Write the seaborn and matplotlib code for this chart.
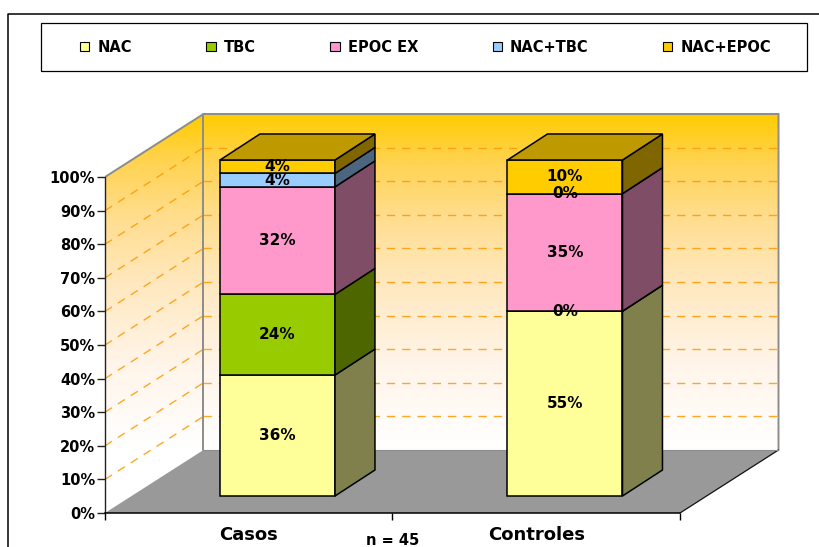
import numpy as np
import matplotlib
matplotlib.use("Agg")
import matplotlib.pyplot as plt
import seaborn as sns
from matplotlib.patches import Polygon, Patch, Rectangle
from matplotlib.colors import LinearSegmentedColormap, to_rgb
from matplotlib.transforms import Affine2D
from matplotlib.lines import Line2D

# ---- data -------------------------------------------------------------
groups = ["Casos", "Controles"]
series = ["NAC", "TBC", "EPOC EX", "NAC+TBC", "NAC+EPOC"]
nac = [36, 55]
tbc = [24, 0]
epoc_ex = [32, 35]
nac_tbc = [4, 0]
nac_epoc = [4, 10]
y_ticks = [0, 10, 20, 30, 40, 50, 60, 70, 80, 90, 100]
y_tick_labels = [f"{v}%" for v in y_ticks]
sample_note = "n = 45"
colors = ["#FFFF99", "#99CC00", "#FF99CC", "#99CCFF", "#FFCC00"]

# ---- style ------------------------------------------------------------
sns.set_theme(style="white")
plt.rcParams["font.family"] = ["DejaVu Sans"]
plt.rcParams["font.weight"] = "bold"
plt.rcParams["text.color"] = "black"
plt.rcParams["xtick.color"] = "black"
plt.rcParams["ytick.color"] = "black"
plt.rcParams["axes.labelcolor"] = "black"

W, H = 819, 547
fig = plt.figure(figsize=(W / 100, H / 100), dpi=100)
fig.patch.set_facecolor("white")

# front plane of the floor: one category slot = 287.5 px, 1 % = 3.36 px
x0_px, y0_px = 105, 513
slot_px, pct_px = 287.5, 3.36
xlim = (-0.5, 1.95)
ylim = (0, 125)
ax = fig.add_axes([x0_px / W, (H - y0_px) / H,
                   (xlim[1] - xlim[0]) * slot_px / W,
                   (ylim[1] - ylim[0]) * pct_px / H])
ax.set_facecolor("none")

# oblique depth of the box, and of the bars, in data units
DX, DY = 98.5 / slot_px, 63 / pct_px
FX, FY = 0.100, 5.06      # bar front face
BX, BY = 0.239, 12.8      # bar back face
BAR_W = 0.40

# ---- walls ------------------------------------------------------------
wall_cmap = LinearSegmentedColormap.from_list(
    "wall",
    [(0.0, "#FFFFFF"), (0.25, "#FFF5EA"), (0.5, "#FFE8BE"),
     (0.7, "#FFDD8C"), (0.86, "#FFD350"), (1.0, "#FFCC00")])
gy = np.linspace(0, 100 + DY, 400)
grad = np.clip((gy - DY) / 100, 0, 1)[:, None] * np.ones((1, 2))
wall_verts = [(-0.5, 0), (-0.5, 100), (-0.5 + DX, 100 + DY),
              (1.5 + DX, 100 + DY), (1.5 + DX, DY), (-0.5 + DX, DY)]
im = ax.imshow(grad, extent=(-0.5, 1.5 + DX, 0, 100 + DY), origin="lower",
               aspect="auto", cmap=wall_cmap, vmin=0, vmax=1,
               interpolation="bilinear", zorder=0)
im.set_clip_path(Polygon(wall_verts, closed=True, transform=ax.transData))

# dashed gridlines on back and side walls
for p in y_ticks[1:-1]:
    ax.plot([-0.5 + DX, 1.5 + DX], [p + DY, p + DY], color="#FF9900",
            lw=1.0, dashes=(6, 5), alpha=0.85, zorder=0.5)
    ax.plot([-0.5, -0.5 + DX], [p, p + DY], color="#FF9900",
            lw=1.0, dashes=(6, 5), alpha=0.85, zorder=0.5)

# wall outlines
ax.plot([-0.5, -0.5 + DX, 1.5 + DX, 1.5 + DX], [100, 100 + DY, 100 + DY, DY],
        color="#8C8C8C", lw=1.4, zorder=0.6, solid_joinstyle="miter")
ax.plot([-0.5 + DX, -0.5 + DX], [DY, 100 + DY], color="#8C8C8C",
        lw=1.4, zorder=0.6)

# floor
floor = Polygon([(-0.5, 0), (1.5, 0), (1.5 + DX, DY), (-0.5 + DX, DY)],
                closed=True, facecolor="#999999", edgecolor="none", zorder=1)
ax.add_patch(floor)
ax.plot([1.5, 1.5 + DX], [0, DY], color="#111111", lw=0.9, zorder=1.1)
ax.plot([-0.5 + DX, 1.5 + DX], [DY, DY], color="#8C8C8C", lw=0.8, zorder=1.1)

# ---- stacked 3-D bars -------------------------------------------------
values = [nac, tbc, epoc_ex, nac_tbc, nac_epoc]
bottom = np.zeros(len(groups))
shift = Affine2D().translate(FX, FY) + ax.transData
for k, (name, vals, col) in enumerate(zip(series, values, colors)):
    vals = np.asarray(vals, dtype=float)
    n_before = len(ax.patches)
    sns.barplot(x=groups, y=vals, bottom=bottom, width=BAR_W, color=col,
                saturation=1, errorbar=None, edgecolor="black",
                linewidth=1.1, ax=ax)
    new = ax.patches[n_before:]
    rgb = np.array(to_rgb(col))
    for bar, v in zip(new, vals):
        bar.set_transform(shift)
        bar.set_zorder(5)
        xl, w = bar.get_x(), bar.get_width()
        yb, h = bar.get_y(), bar.get_height()
        xr, yt = xl + w, yb + h
        side = Polygon([(xr + FX, yb + FY), (xr + FX, yt + FY),
                        (xr + BX, yt + BY), (xr + BX, yb + BY)],
                       closed=True, facecolor=rgb * 0.5, edgecolor="black",
                       lw=1.1, zorder=5, joinstyle="miter")
        ax.add_patch(side)
        if k == len(series) - 1:
            top = Polygon([(xl + FX, yt + FY), (xr + FX, yt + FY),
                           (xr + BX, yt + BY), (xl + BX, yt + BY)],
                          closed=True, facecolor=rgb * 0.75,
                          edgecolor="black", lw=1.1, zorder=5,
                          joinstyle="miter")
            ax.add_patch(top)
        ax.text(xl + w / 2 + FX, yb + h / 2 + FY, f"{v:.0f}%",
                ha="center", va="center", fontsize=11, fontweight="bold",
                color="black", zorder=10)
    bottom = bottom + vals

# ---- axes -------------------------------------------------------------
ax.set_xlim(*xlim)
ax.set_ylim(*ylim)
for s in ("top", "right"):
    ax.spines[s].set_visible(False)
ax.spines["left"].set_bounds(0, 100)
ax.spines["left"].set_color("#222222")
ax.spines["left"].set_linewidth(1.0)
ax.spines["left"].set_zorder(2)
ax.spines["bottom"].set_bounds(-0.5, 1.5)
ax.spines["bottom"].set_color("black")
ax.spines["bottom"].set_linewidth(1.1)
ax.spines["bottom"].set_zorder(2)

ax.set_yticks(y_ticks)
ax.set_yticklabels(y_tick_labels)
ax.tick_params(axis="y", left=True, length=6, width=1.0, color="#222222",
               direction="out", pad=1, labelsize=10.5, labelcolor="black")
ax.set_xticks([-0.5, 0.5, 1.5])
ax.set_xticklabels(["", "", ""])
ax.set_xticks([0, 1], minor=True)
ax.set_xticklabels(groups, minor=True, fontsize=13, fontweight="bold",
                   color="black")
ax.tick_params(axis="x", which="major", bottom=True, length=5, width=1.0,
               color="black", direction="out")
ax.tick_params(axis="x", which="minor", bottom=True, length=0, pad=9)
ax.set_xlabel("")
ax.set_ylabel("")
ax.grid(False)

ax.annotate(sample_note, xy=(0.5, 0), xycoords="data", xytext=(0, -32),
            textcoords="offset pixels", ha="center", va="baseline",
            fontsize=10.5, fontweight="bold", color="black",
            annotation_clip=False)

# ---- legend -----------------------------------------------------------
handles = [Patch(facecolor=c, edgecolor="black", lw=0.8) for c in colors]
leg = fig.legend(handles, series, ncol=5, loc="center left",
                 bbox_to_anchor=(80 / W, 1 - 47 / H),
                 bbox_transform=fig.transFigure,
                 frameon=False, borderpad=0, borderaxespad=0,
                 handlelength=0.65, handleheight=0.65, handletextpad=0.55,
                 columnspacing=5.1, prop={"size": 10.5, "weight": "bold"})
for t in leg.get_texts():
    t.set_color("black")
fig.add_artist(Rectangle((41 / W, 1 - 71 / H), (807 - 41) / W, 48 / H,
                         transform=fig.transFigure, fill=False,
                         edgecolor="black", lw=0.9))

# outer chart frame (left and top edges)
fig.add_artist(Line2D([7.5 / W, 7.5 / W, 1.0],
                      [0.0, 1 - 13.5 / H, 1 - 13.5 / H],
                      transform=fig.transFigure, color="black", lw=1.1))

fig.savefig("out.png", dpi=100, facecolor="white")
